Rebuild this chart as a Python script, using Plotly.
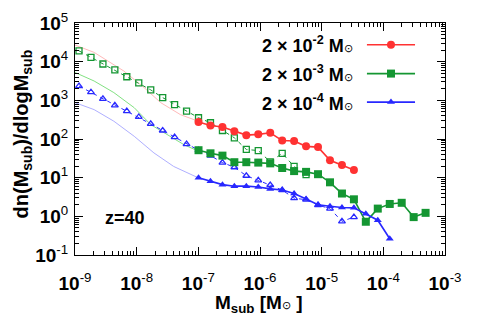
import numpy as np
import plotly.graph_objects as go

# log10(M_sub) grid of the binned points
log_m_bins = [-8.935, -8.741, -8.547, -8.354, -8.160, -7.966, -7.772, -7.578, -7.385, -7.191,
              -6.997, -6.803, -6.609, -6.416, -6.222, -6.028, -5.834, -5.640, -5.447, -5.253,
              -5.059, -4.865, -4.671, -4.477, -4.284, -4.090, -3.896, -3.702, -3.508, -3.315]

# filled series (log10 dn/dlogM)
log_red = [2.44, 2.35, 2.31, 2.20, 2.10, 2.12, 2.16, 1.96, 1.95, 1.81, 1.79, 1.45, 1.33, 1.20]
log_green = [1.71, 1.63, 1.57, 1.40, 1.40, 1.39, 1.37, 1.25, 1.17, 1.15, 1.09, 0.88, 0.59, 0.44,
             -0.14, 0.20, 0.32, 0.35, -0.02, 0.09]
log_blue = [1.00, 0.91, 0.82, 0.78, 0.78, 0.76, 0.71, 0.68, 0.59, 0.45, 0.30, 0.26, 0.23, 0.22,
            0.07, -0.10, -0.58]

# open (dashed) series
log_green_open = [4.28, 4.11, 3.94, 3.79, 3.61, 3.45, 3.27, 3.07, 2.89, 2.72, 2.55, 2.42, 2.22,
                  2.03, 1.73, 1.70, 1.41, 1.63, 1.29, 1.08]
log_blue_open = [3.37, 3.21, 3.04, 2.87, 2.72, 2.57, 2.39, 2.22, 2.05, 1.87, 1.71, 1.57, 1.39,
                 1.27, 1.05, 0.93, 0.81, 0.68, 0.47, 0.43, 0.29, 0.20, -0.13, -0.02]

# thin faint curves
thin_red_x = [-9.0, -8.69, -8.21, -7.88, -7.61, -7.29, -7.07, -6.99]
thin_red_y = [4.43, 4.24, 3.76, 3.33, 2.94, 2.63, 2.50, 2.46]
thin_green_x = [-9.0, -8.69, -8.37, -8.04, -7.77, -7.50, -7.23, -6.99]
thin_green_y = [3.72, 3.50, 3.20, 2.81, 2.37, 2.11, 1.85, 1.68]
thin_blue_x = [-9.0, -8.69, -8.37, -8.04, -7.72, -7.40, -7.02]
thin_blue_y = [2.94, 2.76, 2.46, 2.07, 1.64, 1.29, 1.01]

ODOT = "<span style='font-size:11px;font-weight:normal'>⊙</span>"
legend_labels = ["2 × 10<sup>-2</sup> M" + ODOT,
                 "2 × 10<sup>-3</sup> M" + ODOT,
                 "2 × 10<sup>-4</sup> M" + ODOT]

x_tick_exp = [-9, -8, -7, -6, -5, -4, -3]
y_tick_exp = [-1, 0, 1, 2, 3, 4, 5]

RED = "rgb(255,50,50)"
GREEN = "rgb(20,150,50)"
BLUE = "rgb(40,40,255)"
RED_L = "rgb(255,185,185)"
GREEN_L = "rgb(130,225,130)"
BLUE_L = "rgb(175,175,255)"
FONT = "Liberation Sans"

def p(v):
    return [10 ** a for a in v]

fig = go.Figure()
# thin faint lines
fig.add_trace(go.Scatter(x=p(thin_red_x), y=p(thin_red_y), mode="lines",
                         line=dict(color=RED_L, width=1)))
fig.add_trace(go.Scatter(x=p(thin_green_x), y=p(thin_green_y), mode="lines",
                         line=dict(color=GREEN_L, width=1)))
fig.add_trace(go.Scatter(x=p(thin_blue_x), y=p(thin_blue_y), mode="lines",
                         line=dict(color=BLUE_L, width=1)))
# open dashed series
fig.add_trace(go.Scatter(x=p(log_m_bins[:len(log_green_open)]), y=p(log_green_open),
                         mode="lines+markers",
                         line=dict(color=GREEN, width=1, dash="4px,4px"),
                         marker=dict(symbol="square-open", size=6, color=GREEN,
                                     line=dict(width=1.3, color=GREEN))))
fig.add_trace(go.Scatter(x=p(log_m_bins[:len(log_blue_open)]), y=p(log_blue_open),
                         mode="lines+markers",
                         line=dict(color=BLUE, width=1, dash="4px,4px"),
                         marker=dict(symbol="triangle-up-open", size=6, color=BLUE,
                                     line=dict(width=1.3, color=BLUE))))
# filled series
fig.add_trace(go.Scatter(x=p(log_m_bins[10:10 + len(log_red)]), y=p(log_red),
                         mode="lines+markers", line=dict(color=RED, width=1.6),
                         marker=dict(symbol="circle", size=8, color=RED)))
fig.add_trace(go.Scatter(x=p(log_m_bins[10:10 + len(log_green)]), y=p(log_green),
                         mode="lines+markers", line=dict(color=GREEN, width=1.6),
                         marker=dict(symbol="square", size=8, color=GREEN)))
fig.add_trace(go.Scatter(x=p(log_m_bins[10:10 + len(log_blue)]), y=p(log_blue),
                         mode="lines+markers", line=dict(color=BLUE, width=1.6),
                         marker=dict(symbol="triangle-up", size=7, color=BLUE)))

# legend samples on overlay axes
leg_y = [0.906, 0.782, 0.659]
leg_cols = [RED, GREEN, BLUE]
leg_sym = ["circle", "square", "triangle-up"]
for yy, c, s, lab in zip(leg_y, leg_cols, leg_sym, legend_labels):
    fig.add_trace(go.Scatter(x=[0.789, 0.919], y=[yy, yy], mode="lines",
                             line=dict(color=c, width=1.6), xaxis="x2", yaxis="y2"))
    fig.add_trace(go.Scatter(x=[0.854], y=[yy], mode="markers",
                             marker=dict(symbol=s, size=8 if s != "triangle-up" else 7, color=c),
                             xaxis="x2", yaxis="y2"))
    fig.add_annotation(x=0.757, y=yy, xref="paper", yref="paper", text="<b>" + lab + "</b>",
                       showarrow=False, xanchor="right", yanchor="middle",
                       font=dict(size=18, color="black", family=FONT))

fig.add_annotation(x=0.135, y=0.158, xref="paper", yref="paper", text="<b>z=40</b>",
                   showarrow=False, xanchor="center", yanchor="middle",
                   font=dict(size=18, color="black", family=FONT))

# axis titles
fig.add_annotation(x=-0.143, y=0.52, xref="paper", yref="paper",
                   text="<b>dn(M<sub>sub</sub>)/dlogM<sub>sub</sub></b>", textangle=-90,
                   showarrow=False, xanchor="center", yanchor="middle",
                   font=dict(size=20, color="black", family=FONT))
fig.add_annotation(x=0.497, y=-0.211, xref="paper", yref="paper",
                   text="<b>M<sub>sub</sub> [M</b>" + ODOT + "<b> ]</b>",
                   showarrow=False, xanchor="center", yanchor="middle",
                   font=dict(size=19, color="black", family=FONT))

axis_common = dict(type="log", showgrid=False, zeroline=False, showline=True, automargin=False,
                   linecolor="black", linewidth=1, mirror="allticks", ticks="inside",
                   ticklen=8, tickcolor="black", tickwidth=1,
                   tickfont=dict(size=19, color="black", family=FONT),
                   minor=dict(ticks="inside", ticklen=4, tickcolor="black", dtick="D1",
                              showgrid=False))

fig.update_layout(
    width=472, height=328,
    margin=dict(l=67, r=35, t=15, b=81),
    paper_bgcolor="white", plot_bgcolor="white",
    showlegend=False,
    font=dict(family=FONT, color="black"),
    xaxis=dict(axis_common, range=[-9, -3],
               tickvals=[10 ** e for e in x_tick_exp],
               ticktext=["<b>10</b><sup>%d</sup>" % e for e in x_tick_exp],
               ticklabelstandoff=11),
    yaxis=dict(axis_common, range=[-1, 5],
               tickvals=[10 ** e for e in y_tick_exp],
               ticktext=["<b>10</b><sup>%d</sup>" % e for e in y_tick_exp],
               ticklabelstandoff=2),
    xaxis2=dict(overlaying="x", range=[0, 1], visible=False, automargin=False),
    yaxis2=dict(overlaying="y", range=[0, 1], visible=False, automargin=False),
)

fig.write_html("out.html")
